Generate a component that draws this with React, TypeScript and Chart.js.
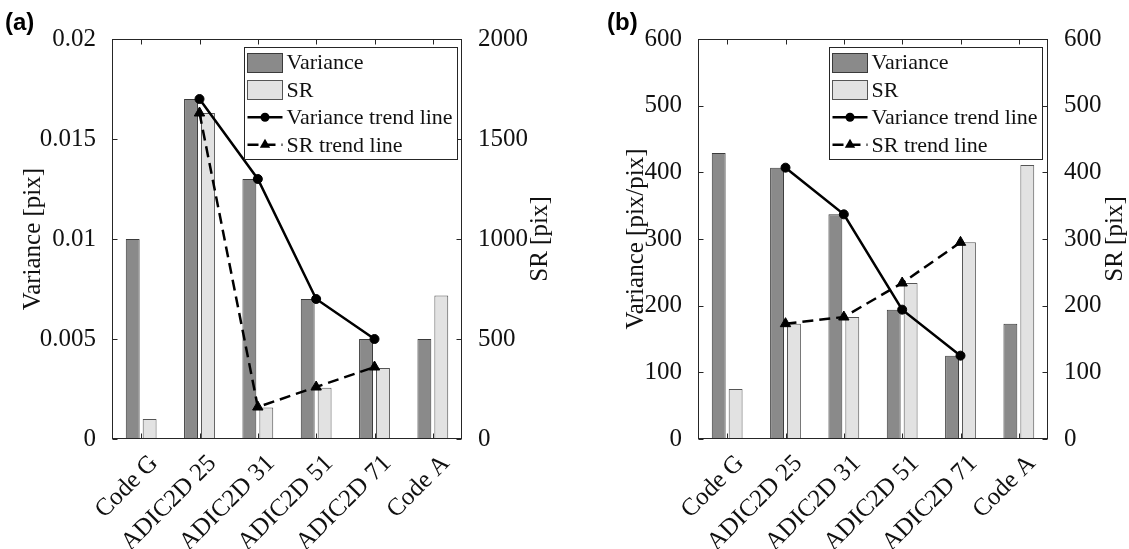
import React, { useEffect, useRef } from "react";
import { Chart, registerables } from "chart.js";

Chart.register(...registerables);

// ---------- data ----------
const categories = ["Code G", "ADIC2D 25", "ADIC2D 31", "ADIC2D 51", "ADIC2D 71", "Code A"];
const legendLabels = ["Variance", "SR", "Variance trend line", "SR trend line"];

// panel (a)
const varianceA = [0.01, 0.017, 0.013, 0.007, 0.005, 0.005];
const srA = [100, 1630, 158, 256, 355, 718];
const varianceTrendA = [null, 0.017, 0.013, 0.007, 0.005, null];
const srTrendA = [null, 1630, 160, 260, 360, null];
const leftTicksA = [0, 0.005, 0.01, 0.015, 0.02];
const leftTickLabelsA = ["0", "0.005", "0.01", "0.015", "0.02"];
const rightTicksA = [0, 500, 1000, 1500, 2000];
const rightTickLabelsA = ["0", "500", "1000", "1500", "2000"];

// panel (b)
const varianceB = [429, 407, 337, 194, 125, 173];
const srB = [75, 173, 183, 234, 295, 411];
const varianceTrendB = [null, 407, 337, 194, 125, null];
const srTrendB = [null, 173, 183, 234, 295, null];
const ticksB = [0, 100, 200, 300, 400, 500, 600];
const tickLabelsB = ["0", "100", "200", "300", "400", "500", "600"];

// ---------- style ----------
const FONT = "'Liberation Serif', 'Times New Roman', Times, serif";
const LABEL_FONT = "'Liberation Sans', Arial, sans-serif";
const AXIS = "#262626";
const TEXT = "#111111";
const VAR_FILL = "#8a8a8a";
const VAR_EDGE = "#3a3a3a";
const SR_FILL = "#e2e2e2";
const SR_EDGE = "#555555";
const H = 549;
const TICK = 5;

type Cfg = {
  varData: number[];
  srData: number[];
  varTrend: (number | null)[];
  srTrend: (number | null)[];
  leftTicks: number[];
  leftLabels: string[];
  rightTicks: number[];
  rightLabels: string[];
  leftTitle: string;
  rightTitle: string;
  panelLabel: string;
  width: number;
  leftW: number;
  rightW: number;
  leftTitlePad: number;
  rightTitleX: number;
  panelX: number;
  legendRight: number;
};

const cfgA: Cfg = {
  varData: varianceA,
  srData: srA,
  varTrend: varianceTrendA,
  srTrend: srTrendA,
  leftTicks: leftTicksA,
  leftLabels: leftTickLabelsA,
  rightTicks: rightTicksA,
  rightLabels: rightTickLabelsA,
  leftTitle: "Variance [pix]",
  rightTitle: "SR [pix]",
  panelLabel: "(a)",
  width: 565,
  leftW: 112,
  rightW: 103,
  leftTitlePad: 18,
  rightTitleX: 540,
  panelX: 5,
  legendRight: 5,
};

const cfgB: Cfg = {
  varData: varianceB,
  srData: srB,
  varTrend: varianceTrendB,
  srTrend: srTrendB,
  leftTicks: ticksB,
  leftLabels: tickLabelsB,
  rightTicks: ticksB,
  rightLabels: tickLabelsB,
  leftTitle: "Variance [pix/pix]",
  rightTitle: "SR [pix]",
  panelLabel: "(b)",
  width: 564,
  leftW: 133,
  rightW: 81,
  leftTitlePad: 56,
  rightTitleX: 550,
  panelX: 42,
  legendRight: 6,
};

const makePlugin = (c: Cfg) => ({
  id: "matlabDeco",
  afterDraw(chart: any) {
    const ctx = chart.ctx as CanvasRenderingContext2D;
    const { left, right, top, bottom } = chart.chartArea;
    const seg = (x1: number, y1: number, x2: number, y2: number) => {
      ctx.beginPath();
      ctx.moveTo(x1, y1);
      ctx.lineTo(x2, y2);
      ctx.stroke();
    };
    ctx.save();
    ctx.setLineDash([]);
    ctx.strokeStyle = AXIS;
    ctx.lineWidth = 1;
    const L = Math.round(left) + 0.5;
    const R = Math.round(right) - 0.5;
    const T = Math.round(top) + 0.5;
    const B = Math.round(bottom) - 0.5;
    ctx.strokeRect(L, T, R - L, B - T);
    const xs = chart.scales.x;
    xs.ticks.forEach((_: any, i: number) => {
      const px = Math.round(xs.getPixelForTick(i)) + 0.5;
      seg(px, B, px, B - TICK);
      seg(px, T, px, T + TICK);
    });
    const ys = chart.scales.y;
    ys.ticks.forEach((_: any, i: number) => {
      const py = Math.round(ys.getPixelForTick(i)) + 0.5;
      seg(L, py, L + TICK, py);
    });
    const y1 = chart.scales.y1;
    y1.ticks.forEach((_: any, i: number) => {
      const py = Math.round(y1.getPixelForTick(i)) + 0.5;
      seg(R, py, R - TICK, py);
    });

    // right axis title (reads bottom to top)
    ctx.save();
    ctx.translate(c.rightTitleX, (top + bottom) / 2);
    ctx.rotate(-Math.PI / 2);
    ctx.font = `25px ${FONT}`;
    ctx.fillStyle = TEXT;
    ctx.textAlign = "center";
    ctx.textBaseline = "middle";
    ctx.fillText(c.rightTitle, 0, 0);
    ctx.restore();

    // panel label
    ctx.font = `bold 24px ${LABEL_FONT}`;
    ctx.fillStyle = "#000";
    ctx.textAlign = "left";
    ctx.textBaseline = "middle";
    ctx.fillText(c.panelLabel, c.panelX, 23);

    // legend
    const ds = chart.data.datasets;
    ctx.font = `22px ${FONT}`;
    const textW = Math.max(...ds.map((d: any) => ctx.measureText(d.label).width));
    const sampleW = 35;
    const padL = 3;
    const gap = 4;
    const padR = 5;
    const rowH = 27.5;
    const w = Math.round(padL + sampleW + gap + textW + padR);
    const h = Math.round(rowH * ds.length + 2);
    const x0 = Math.round(R - c.legendRight - w) + 0.5;
    const y0 = Math.round(T + 7) + 0.5;
    ctx.fillStyle = "#fff";
    ctx.fillRect(x0, y0, w, h);
    ctx.strokeStyle = AXIS;
    ctx.lineWidth = 1;
    ctx.strokeRect(x0, y0, w, h);
    ds.forEach((d: any, i: number) => {
      const cy = y0 + 1 + rowH * (i + 0.5);
      const sx = x0 + padL;
      if (d.type === "line") {
        ctx.strokeStyle = d.borderColor;
        ctx.lineWidth = d.borderWidth;
        ctx.setLineDash(d.borderDash || []);
        seg(sx, cy, sx + sampleW, cy);
        ctx.setLineDash([]);
        ctx.fillStyle = d.pointBackgroundColor;
        const mx = sx + sampleW / 2;
        const r = d.pointRadius;
        ctx.beginPath();
        if (d.pointStyle === "triangle") {
          ctx.moveTo(mx, cy - r);
          ctx.lineTo(mx + 0.866 * r, cy + 0.5 * r);
          ctx.lineTo(mx - 0.866 * r, cy + 0.5 * r);
          ctx.closePath();
        } else {
          ctx.arc(mx, cy, r, 0, Math.PI * 2);
        }
        ctx.fill();
      } else {
        ctx.fillStyle = d.backgroundColor;
        ctx.fillRect(sx, Math.round(cy - 9.5) + 0.5, sampleW, 19);
        ctx.strokeStyle = d.borderColor;
        ctx.lineWidth = 1;
        ctx.strokeRect(sx, Math.round(cy - 9.5) + 0.5, sampleW, 19);
      }
      ctx.fillStyle = TEXT;
      ctx.textAlign = "left";
      ctx.textBaseline = "middle";
      ctx.fillText(d.label, sx + sampleW + gap, cy + 1);
    });
    ctx.restore();
  },
});

const buildConfig = (c: Cfg) => ({
  type: "bar",
  data: {
    labels: categories,
    datasets: [
      {
        type: "bar",
        label: legendLabels[0],
        data: c.varData,
        yAxisID: "y",
        backgroundColor: VAR_FILL,
        borderColor: VAR_EDGE,
        borderWidth: 1,
        categoryPercentage: 0.58,
        barPercentage: 0.82,
        order: 1,
      },
      {
        type: "bar",
        label: legendLabels[1],
        data: c.srData,
        yAxisID: "y1",
        backgroundColor: SR_FILL,
        borderColor: SR_EDGE,
        borderWidth: 1,
        categoryPercentage: 0.58,
        barPercentage: 0.82,
        order: 1,
      },
      {
        type: "line",
        label: legendLabels[2],
        data: c.varTrend,
        yAxisID: "y",
        borderColor: "#000",
        borderWidth: 2.5,
        pointStyle: "circle",
        pointRadius: 4.5,
        pointBackgroundColor: "#000",
        pointBorderColor: "#000",
        pointBorderWidth: 1,
        fill: false,
        tension: 0,
        order: 0,
      },
      {
        type: "line",
        label: legendLabels[3],
        data: c.srTrend,
        yAxisID: "y1",
        borderColor: "#000",
        borderWidth: 2.5,
        borderDash: [11, 6],
        pointStyle: "triangle",
        pointRadius: 6,
        pointBackgroundColor: "#000",
        pointBorderColor: "#000",
        pointBorderWidth: 1,
        fill: false,
        tension: 0,
        order: 0,
      },
    ],
  },
  options: {
    responsive: false,
    animation: false,
    events: [],
    font: { family: FONT },
    layout: { padding: { top: 39, left: 0, right: 0, bottom: 0 } },
    plugins: { legend: { display: false }, tooltip: { enabled: false } },
    scales: {
      x: {
        type: "category",
        offset: true,
        grid: { display: false },
        border: { display: false },
        ticks: {
          font: { family: FONT, size: 25 },
          color: TEXT,
          minRotation: 45,
          maxRotation: 45,
          autoSkip: false,
          padding: 2,
          labelOffset: 13,
        },
        afterFit: (s: any) => {
          s.height = 110;
        },
      },
      y: {
        type: "linear",
        position: "left",
        min: c.leftTicks[0],
        max: c.leftTicks[c.leftTicks.length - 1],
        grid: { display: false },
        border: { display: false },
        ticks: {
          font: { family: FONT, size: 25 },
          color: TEXT,
          padding: 8,
          callback: (_v: any, i: number) => c.leftLabels[i],
        },
        afterBuildTicks: (s: any) => {
          s.ticks = c.leftTicks.map((v) => ({ value: v }));
        },
        afterFit: (s: any) => {
          s.width = c.leftW;
        },
        title: {
          display: true,
          text: c.leftTitle,
          font: { family: FONT, size: 25 },
          color: TEXT,
          padding: { top: c.leftTitlePad, bottom: 0 },
        },
      },
      y1: {
        type: "linear",
        position: "right",
        min: c.rightTicks[0],
        max: c.rightTicks[c.rightTicks.length - 1],
        grid: { display: false },
        border: { display: false },
        ticks: {
          font: { family: FONT, size: 25 },
          color: TEXT,
          padding: 8,
          callback: (_v: any, i: number) => c.rightLabels[i],
        },
        afterBuildTicks: (s: any) => {
          s.ticks = c.rightTicks.map((v) => ({ value: v }));
        },
        afterFit: (s: any) => {
          s.width = c.rightW;
        },
      },
    },
  },
  plugins: [makePlugin(c)],
});

function Panel({ cfg, left }: { cfg: Cfg; left: number }) {
  const ref = useRef<HTMLCanvasElement>(null);
  useEffect(() => {
    let chart: Chart | null = null;
    let alive = true;
    const make = () => {
      if (!alive) return;
      if (chart) chart.destroy();
      chart = new Chart(ref.current as HTMLCanvasElement, buildConfig(cfg) as any);
    };
    make();
    const fonts = (document as any).fonts;
    if (fonts && fonts.load) {
      Promise.all([
        fonts.load("25px 'Liberation Serif'"),
        fonts.load("bold 24px 'Liberation Sans'"),
      ])
        .then(() => fonts.ready)
        .then(make, make);
    }
    return () => {
      alive = false;
      if (chart) chart.destroy();
    };
  }, [cfg]);
  return (
    <canvas
      ref={ref}
      width={cfg.width}
      height={H}
      style={{ position: "absolute", left, top: 0, width: cfg.width, height: H }}
    />
  );
}

export default function App() {
  return (
    <div
      style={{
        position: "fixed",
        left: 0,
        top: 0,
        width: 1129,
        height: H,
        background: "#fff",
        overflow: "hidden",
      }}
    >
      <span
        style={{
          position: "absolute",
          left: -9999,
          top: 0,
          fontFamily: "'Liberation Serif'",
          fontSize: 25,
        }}
      >
        Variance SR
      </span>
      <span
        style={{
          position: "absolute",
          left: -9999,
          top: 0,
          fontFamily: "'Liberation Sans'",
          fontWeight: "bold",
          fontSize: 24,
        }}
      >
        (a)
      </span>
      <Panel cfg={cfgA} left={0} />
      <Panel cfg={cfgB} left={565} />
    </div>
  );
}
